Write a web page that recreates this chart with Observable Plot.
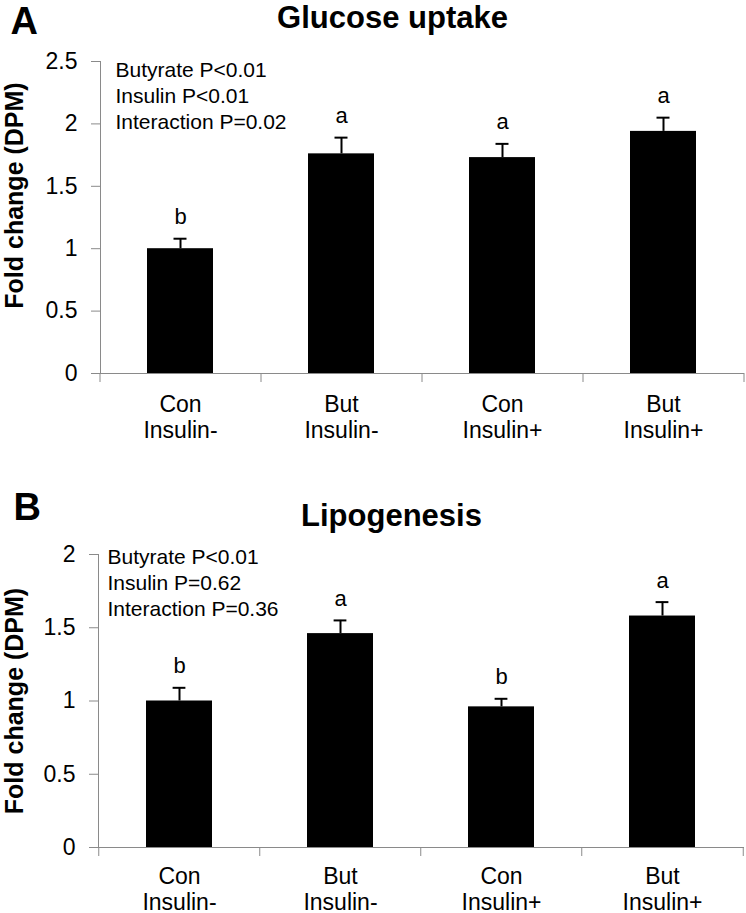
<!DOCTYPE html>
<html><head><meta charset="utf-8">
<script src="https://cdn.jsdelivr.net/npm/d3@7"></script>
<script src="https://cdn.jsdelivr.net/npm/@observablehq/plot@0.6"></script>
<style>
body{margin:0;background:#fff;}
#chart{width:746px;}
#chart svg{display:block;}
</style></head><body><div id="chart"></div>
<script>
// ---- data ----
const treatments = ["Con", "But", "Con", "But"];
const insulin = ["Insulin-", "Insulin-", "Insulin+", "Insulin+"];
const categories = treatments.map((t, i) => t + "\n" + insulin[i]);
const yLabel = "Fold change (DPM)";

const glucoseTitle = "Glucose uptake";
const glucoseMean = [1.00, 1.76, 1.73, 1.94];
const glucoseErr = [0.08, 0.13, 0.11, 0.11];
const glucoseLetters = ["b", "a", "a", "a"];
const glucoseStats = ["Butyrate P<0.01", "Insulin P<0.01", "Interaction P=0.02"];
const glucoseTicks = [0, 0.5, 1, 1.5, 2, 2.5];

const lipoTitle = "Lipogenesis";
const lipoMean = [1.00, 1.46, 0.96, 1.58];
const lipoErr = [0.09, 0.09, 0.055, 0.095];
const lipoLetters = ["b", "a", "b", "a"];
const lipoStats = ["Butyrate P<0.01", "Insulin P=0.62", "Interaction P=0.36"];
const lipoTicks = [0, 0.5, 1, 1.5, 2];

// ---- drawing ----
const gray = "#8a8a8a";
const font = "'Liberation Sans', Arial, sans-serif";
const W = 746;

function panel(o) {
  const data = categories.map((c, i) => ({key: c, mean: o.mean[i], top: o.mean[i] + o.err[i], letter: o.letters[i]}));
  const frameH = o.height - o.marginTop - o.marginBottom;
  const step = (W - o.marginLeft - o.marginRight) / categories.length;
  const bw = step * 0.41;
  const capInset = (bw - 13) / 2;
  return Plot.plot({
    width: W, height: o.height,
    marginTop: o.marginTop, marginBottom: o.marginBottom,
    marginLeft: o.marginLeft, marginRight: o.marginRight,
    style: {fontFamily: font, background: "white", color: "#000", overflow: "visible"},
    x: {domain: categories, paddingInner: 0.59, paddingOuter: 0.295},
    y: {domain: [0, o.yMax]},
    marks: [
      Plot.frame({anchor: "left", stroke: gray}),
      Plot.ruleY([0], {stroke: gray}),
      Plot.ruleX(categories, {x: d => d, dx: -step / 2, insetTop: frameH, insetBottom: -9, stroke: gray}),
      Plot.ruleX([categories[categories.length - 1]], {x: d => d, dx: step / 2, insetTop: frameH, insetBottom: -9, stroke: gray}),
      Plot.axisY({ticks: o.ticks, tickSize: 9, tickPadding: 14, fontSize: 23, stroke: gray, color: "#000", tickFormat: d => String(d), label: null}),
      Plot.axisX({tickSize: 0, tickPadding: o.xPad, fontSize: 23, lineHeight: 1.12, color: "#000", label: null}),
      Plot.barY(data, {x: "key", y: "mean", fill: "#000"}),
      Plot.ruleX(data, {x: "key", y1: "mean", y2: "top", stroke: "#000", strokeWidth: 2}),
      Plot.tickY(data, {x: "key", y: "top", stroke: "#000", strokeWidth: 2, insetLeft: capInset, insetRight: capInset}),
      Plot.text(data, {x: "key", y: "top", text: "letter", lineAnchor: "top", dy: -30, fontSize: 22, fill: "#000"}),
      Plot.text([o.stats.join("\n")], {text: d => d, frameAnchor: "top-left", textAnchor: "start", lineAnchor: "top", dx: o.statsDx, dy: o.statsDy, fontSize: 21, lineHeight: 1.24, fill: "#000"}),
      Plot.text([o.title], {text: d => d, frameAnchor: "top-left", textAnchor: "middle", lineAnchor: "top", dx: o.titleDx, dy: o.titleDy, fontSize: 31, fontWeight: "bold", fill: "#000"}),
      Plot.text([o.letter], {text: d => d, frameAnchor: "top-left", textAnchor: "start", lineAnchor: "top", dx: o.letterDx, dy: o.letterDy, fontSize: 38, fontWeight: "bold", fill: "#000"}),
      Plot.text([yLabel], {text: d => d, frameAnchor: "left", textAnchor: "middle", lineAnchor: "middle", rotate: -90, dx: o.labelDx, dy: o.labelDy, fontSize: 25, fontWeight: "bold", fill: "#000"})
    ]
  });
}

const chart = document.getElementById("chart");
chart.append(panel({
  letter: "A", title: glucoseTitle, mean: glucoseMean, err: glucoseErr, letters: glucoseLetters,
  stats: glucoseStats, ticks: glucoseTicks, yMax: 2.5,
  height: 456, marginTop: 61, marginBottom: 83, marginLeft: 100, marginRight: 2,
  titleDx: 292, titleDy: -56, letterDx: -90, letterDy: -54,
  statsDx: 15, statsDy: -3, labelDx: -86, labelDy: -22, xPad: 20
}));
chart.append(panel({
  letter: "B", title: lipoTitle, mean: lipoMean, err: lipoErr, letters: lipoLetters,
  stats: lipoStats, ticks: lipoTicks, yMax: 2,
  height: 457, marginTop: 98, marginBottom: 66, marginLeft: 98, marginRight: 2,
  titleDx: 293, titleDy: -51, letterDx: -85, letterDy: -61,
  statsDx: 9, statsDy: -9, labelDx: -84, labelDy: 0, xPad: 18
}));
</script>
</body></html>
